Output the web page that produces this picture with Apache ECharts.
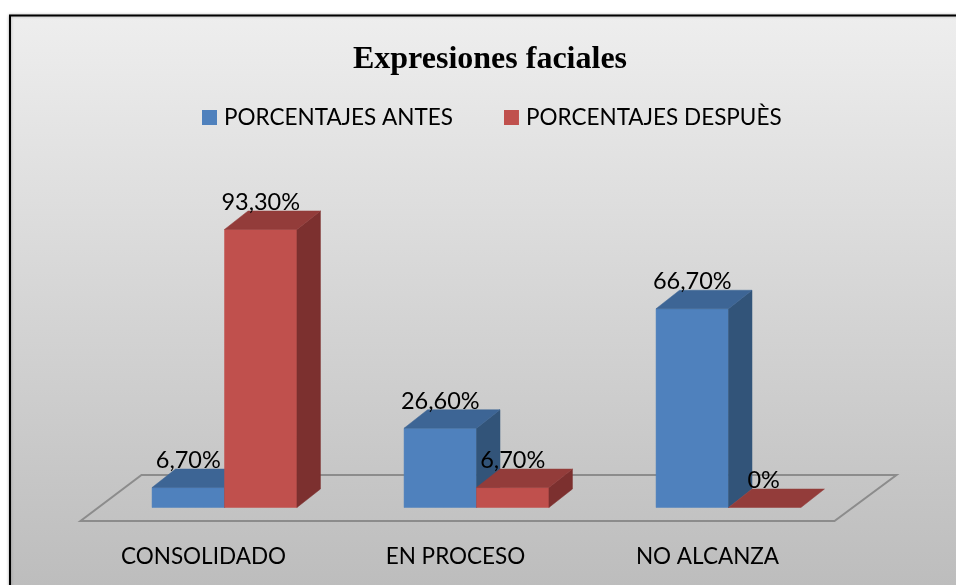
<!DOCTYPE html>
<html>
<head>
<meta charset="utf-8">
<style>
  html, body { margin: 0; padding: 0; background: #fff; }
  #chart { width: 956px; height: 585px; }
</style>
<script src="https://cdn.jsdelivr.net/npm/echarts@6/dist/echarts.min.js"></script>
</head>
<body>
<div id="chart"></div>
<script>
const categories = ["CONSOLIDADO", "EN PROCESO", "NO ALCANZA"];
const antes = [6.7, 26.6, 66.7];
const despues = [93.3, 6.7, 0];
const antesLabels = ["6,70%", "26,60%", "66,70%"];
const despuesLabels = ["93,30%", "6,70%", "0%"];

const LABEL_FONT = "Lato, 'Noto Sans', sans-serif";
const BAR_RATIO = 0.2875;   // ancho de barra respecto a la categoria
const DEPTH_X = 23.5;
const DEPTH_Y = 18.5;

// barra 3D: cara frontal, superior y lateral
function bar3d(offset, labels, colors) {
  return (params, api) => {
    const i = api.value(0);
    const v = api.value(1);
    const base = api.coord([i, 0]);
    const top = api.coord([i, v]);
    const w = api.size([1, 0])[0] * BAR_RATIO;
    const x0 = base[0] + offset * w;
    const x1 = x0 + w;
    const y0 = base[1];
    const y1 = top[1];
    const poly = (points, fill) => ({
      type: "polygon",
      shape: { points },
      style: { fill, stroke: fill, lineWidth: 0.5 },
    });
    const children = [];
    if (v > 0) {
      children.push(poly([[x0, y1], [x1, y1], [x1, y0], [x0, y0]], colors.front));
      children.push(poly([[x1, y1], [x1 + DEPTH_X, y1 - DEPTH_Y], [x1 + DEPTH_X, y0 - DEPTH_Y], [x1, y0]], colors.side));
    }
    children.push(poly([[x0, y1], [x0 + DEPTH_X, y1 - DEPTH_Y], [x1 + DEPTH_X, y1 - DEPTH_Y], [x1, y1]], colors.top));
    children.push({
      type: "text",
      z2: 10,
      style: {
        text: labels[i],
        x: (x0 + x1) / 2 + (v > 0 ? 0 : -1),
        y: y1 - 27,
        align: "center",
        verticalAlign: "middle",
        fill: "#000",
        font: "23.5px " + LABEL_FONT,
      },
    });
    return { type: "group", children };
  };
}

// plano del suelo, sale de las mismas escalas que las barras
function floorItem(params, api) {
  const base = api.coord([0, 0]);
  const cat = api.size([1, 0])[0];
  const left = base[0] - cat / 2;
  const right = left + cat * categories.length;
  const y = base[1];
  return {
    type: "polygon",
    shape: {
      points: [
        [left - 18, y + 13.5],
        [right - 20, y + 13.5],
        [right + 42, y - 32.5],
        [left + 43, y - 32.5],
      ],
    },
    style: { fill: "rgba(0,0,0,0)", stroke: "#8c8c8c", lineWidth: 2 },
  };
}

const chart = echarts.init(document.getElementById("chart"));
chart.setOption({
  animation: false,
  backgroundColor: "#fff",
  graphic: [{
    type: "rect",
    silent: true,
    z: -10,
    shape: { x: 10, y: 15.5, width: 960, height: 580 },
    style: {
      fill: {
        type: "linear", x: 0, y: 0, x2: 0, y2: 1,
        colorStops: [
          { offset: 0, color: "#eeeeee" },
          { offset: 1, color: "#bcbcbc" },
        ],
      },
      stroke: "#000",
      lineWidth: 2,
      shadowColor: "rgba(0,0,0,0.3)",
      shadowBlur: 3,
    },
  }],
  title: {
    text: "Expresiones faciales",
    left: 485,
    top: 39,
    textAlign: "center",
    textStyle: { fontFamily: "'Liberation Serif', serif", fontWeight: "bold", fontSize: 32, color: "#000" },
  },
  legend: {
    left: 197,
    top: 101,
    icon: "rect",
    itemWidth: 15,
    itemHeight: 15,
    itemGap: 51,
    data: ["PORCENTAJES ANTES", "PORCENTAJES DESPUÈS"],
    selectedMode: false,
    textStyle: { fontFamily: LABEL_FONT, fontSize: 22.5, color: "#000", padding: [0, 0, 0, 2] },
  },
  grid: { left: 98.5, width: 756, top: 209.5, height: 298 },
  xAxis: {
    type: "category",
    data: categories,
    axisLine: { show: false },
    axisTick: { show: false },
    axisLabel: { color: "#000", fontFamily: LABEL_FONT, fontSize: 22.5, margin: 38, padding: [0, 42, 0, 0] },
  },
  yAxis: { type: "value", min: 0, max: 100, show: false },
  series: [
    {
      name: "suelo",
      type: "custom",
      silent: true,
      z: 1,
      renderItem: floorItem,
      data: [[0, 0]],
    },
    {
      name: "PORCENTAJES ANTES",
      type: "custom",
      z: 2,
      itemStyle: { color: "#4f81bd" },
      renderItem: bar3d(-1, antesLabels, { front: "#4f81bd", top: "#3d6595", side: "#325479" }),
      data: antes.map((v, i) => [i, v]),
    },
    {
      name: "PORCENTAJES DESPUÈS",
      type: "custom",
      z: 3,
      itemStyle: { color: "#c0504d" },
      renderItem: bar3d(0, despuesLabels, { front: "#c0504d", top: "#933c3a", side: "#7c302f" }),
      data: despues.map((v, i) => [i, v]),
    },
  ],
});
</script>
</body>
</html>
